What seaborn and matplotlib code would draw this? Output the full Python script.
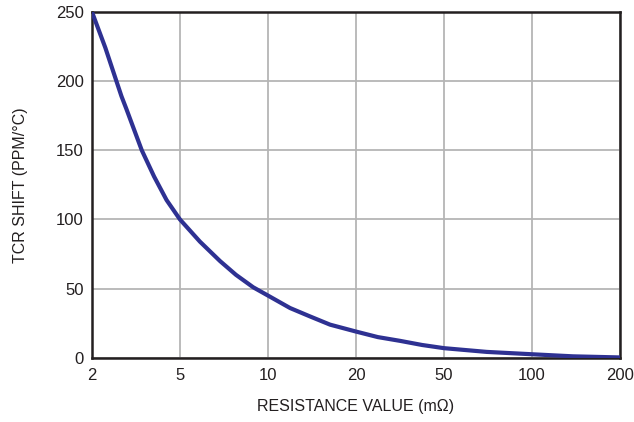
import numpy as np
import pandas as pd
import matplotlib
matplotlib.use("Agg")
import matplotlib.pyplot as plt
import seaborn as sns

# ticks of the resistance axis (evenly spaced on the chart)
tick_values = [2, 5, 10, 20, 50, 100, 200]
y_ticks = [0, 50, 100, 150, 200, 250]

# curve (resistance in mOhm, TCR shift in ppm/C)
resistance = [2, 2.3, 2.58, 2.72, 2.86, 3.36, 3.82, 4.35, 5, 5.85, 6.85, 7.77,
              8.9, 10, 11.9, 13.9, 16.3, 20, 25.1, 31.6, 39.8, 50, 70, 100, 138, 200]
tcr_shift = [250, 224, 200, 189, 180, 150, 131, 114, 100, 84, 70, 60,
             51, 45, 36, 30, 24, 19, 15, 12.3, 9.3, 7, 4.3, 2.6, 1.1, 0.3]

df = pd.DataFrame({"R": resistance, "TCR": tcr_shift})

sns.set_theme(style="white")
plt.rcParams["font.family"] = ["Liberation Sans Narrow", "Liberation Sans", "DejaVu Sans"]

fig = plt.figure(figsize=(6.34, 4.22), dpi=100)
ax = fig.add_axes([0.145, 0.152, 0.833, 0.820])

# piecewise log scale so the 1-2-5 ticks sit at equal steps
log_ticks = np.log10(tick_values)
idx = np.arange(len(tick_values))


def fwd(v):
    v = np.clip(np.asarray(v, dtype=float), 1e-6, None)
    return np.interp(np.log10(v), log_ticks, idx)


def inv(p):
    return 10 ** np.interp(p, idx, log_ticks)


ax.set_xscale("function", functions=(fwd, inv))

sns.lineplot(data=df, x="R", y="TCR", ax=ax, color="#2e3192", linewidth=3.0,
             zorder=3, solid_joinstyle="round", solid_capstyle="butt")

ax.set_xlim(2, 200)
ax.set_ylim(0, 250)
ax.set_xticks(tick_values)
ax.set_xticklabels([str(t) for t in tick_values])
ax.set_yticks(y_ticks)
ax.minorticks_off()

ax.grid(True, color="#b5b5b5", linewidth=1.3)
for s in ax.spines.values():
    s.set_color("#231f20")
    s.set_linewidth(1.8)

ax.tick_params(axis="both", length=0, labelsize=12, colors="#231f20")
ax.tick_params(axis="x", pad=7)
ax.tick_params(axis="y", pad=6)

ax.set_xlabel("RESISTANCE VALUE (m\u03a9)", fontsize=11.5, color="#231f20", labelpad=12)
ax.set_ylabel("TCR SHIFT (PPM/\u00b0C)", fontsize=11.5, color="#231f20", labelpad=20)

fig.savefig("out.png", dpi=100)
